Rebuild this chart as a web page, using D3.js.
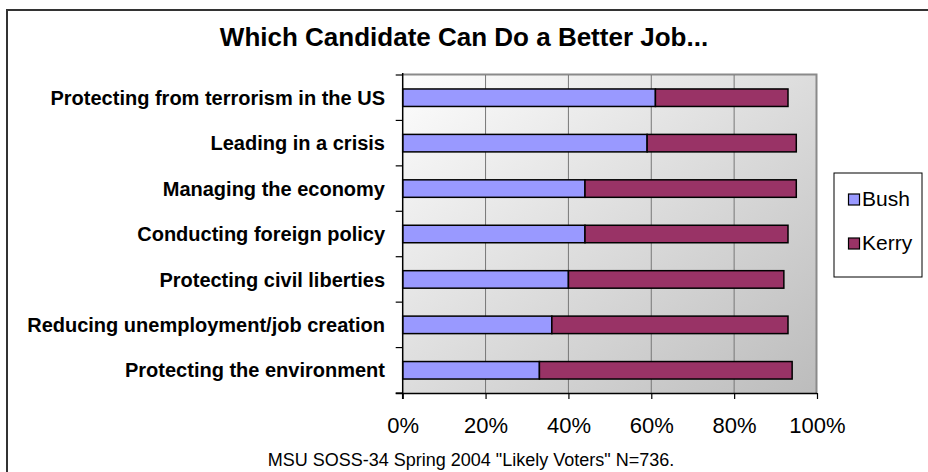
<!DOCTYPE html>
<html><head><meta charset="utf-8">
<script src="https://cdn.jsdelivr.net/npm/d3@7"></script>
<style>
html,body{margin:0;padding:0;background:#fff;}
svg{display:block;font-family:"Liberation Sans",Arial,sans-serif;}
</style></head>
<body>
<script>
const categories = [
  "Protecting from terrorism in the US",
  "Leading in a crisis",
  "Managing the economy",
  "Conducting foreign policy",
  "Protecting civil liberties",
  "Reducing unemployment/job creation",
  "Protecting the environment"
];
const bush  = [61, 59, 44, 44, 40, 36, 33];
const kerry = [32, 36, 51, 49, 52, 57, 61];
const seriesNames = ["Bush", "Kerry"];
const seriesColors = ["#9999FF", "#993366"];
const xTicks = [0, 20, 40, 60, 80, 100];
const title = "Which Candidate Can Do a Better Job...";
const footer = "MSU SOSS-34 Spring 2004 \"Likely Voters\" N=736.";

const W = 928, H = 472;
const svg = d3.select("body").append("svg").attr("width", W).attr("height", H);

const defs = svg.append("defs");
const grad = defs.append("linearGradient").attr("id","pg")
  .attr("x1","0%").attr("y1","0%").attr("x2","100%").attr("y2","100%");
grad.append("stop").attr("offset","0%").attr("stop-color","#fdfdfd");
grad.append("stop").attr("offset","100%").attr("stop-color","#bcbcbc");

// outer frame
svg.append("rect").attr("x",7).attr("y",10).attr("width",W+20).attr("height",H+20)
  .attr("fill","#fff").attr("stroke","#333").attr("stroke-width",2);

const plot = {left:402.7, right:817, top:75, bottom:393};
const x = d3.scaleLinear().domain([0,100]).range([plot.left, plot.right]);
const y = d3.scaleBand().domain(categories).range([plot.top, plot.bottom]).paddingInner(0.615).paddingOuter(0.3075);

// plot area
svg.append("rect").attr("x",plot.left).attr("y",plot.top)
  .attr("width",plot.right-plot.left).attr("height",plot.bottom-plot.top)
  .attr("fill","url(#pg)");
svg.append("path").attr("d",`M${plot.left},${plot.top-0.5}H${plot.right-0.5}V${plot.bottom}`)
  .attr("fill","none").attr("stroke","#8a8a8a").attr("stroke-width",2);

// gridlines
svg.append("g").selectAll("line").data(xTicks.filter(t=>t>0&&t<100)).join("line")
  .attr("x1",d=>x(d)).attr("x2",d=>x(d)).attr("y1",plot.top).attr("y2",plot.bottom)
  .attr("stroke","#777").attr("stroke-width",1);

// bars
const rows = categories.map((c,i)=>({c, vals:[bush[i], kerry[i]]}));
const gb = svg.append("g");
rows.forEach(r=>{
  let acc = 0;
  r.vals.forEach((v,j)=>{
    gb.append("rect").attr("x",x(acc)).attr("y",y(r.c))
      .attr("width",x(acc+v)-x(acc)).attr("height",y.bandwidth())
      .attr("fill",seriesColors[j]).attr("stroke","#000").attr("stroke-width",1.5);
    acc += v;
  });
});

// x axis
const xAxis = d3.axisBottom(x).tickValues(xTicks).tickFormat(d=>d+"%").tickSize(6).tickPadding(18);
const gx = svg.append("g").attr("transform",`translate(0,${plot.bottom})`).call(xAxis);
gx.select(".domain").attr("d",`M${plot.left-7},0.5H${plot.right}`).attr("stroke","#000").attr("stroke-width",1.5);
gx.selectAll(".tick line").attr("stroke","#000").attr("stroke-width",1.2);
gx.selectAll(".tick text").attr("font-size",22).attr("font-family","Liberation Sans, Arial, sans-serif").attr("fill","#000");

// y axis: ticks at boundaries
const bounds = d3.range(categories.length+1).map(i=>plot.top + i*(plot.bottom-plot.top)/categories.length);
svg.append("line").attr("x1",plot.left).attr("x2",plot.left).attr("y1",plot.top-2).attr("y2",plot.bottom+6)
  .attr("stroke","#000").attr("stroke-width",1.5);
svg.append("g").selectAll("line").data(bounds).join("line")
  .attr("x1",plot.left-7).attr("x2",plot.left).attr("y1",d=>d).attr("y2",d=>d)
  .attr("stroke","#000").attr("stroke-width",1.2);
svg.append("g").selectAll("text").data(categories).join("text")
  .attr("x",385).attr("y",d=>y(d)+y.bandwidth()/2).attr("dy","0.36em")
  .attr("text-anchor","end").attr("font-size",20).attr("font-weight","bold").text(d=>d);

// title
svg.append("text").attr("x",464).attr("y",46).attr("text-anchor","middle")
  .attr("font-size",26).attr("font-weight","bold").text(title);

// footer
svg.append("text").attr("x",471).attr("y",466).attr("text-anchor","middle")
  .attr("font-size",18).text(footer);

// legend
const lg = svg.append("g");
lg.append("rect").attr("x",834).attr("y",173).attr("width",88).attr("height",104)
  .attr("fill","#fff").attr("stroke","#000").attr("stroke-width",1);
seriesNames.forEach((s,i)=>{
  const yy = 194 + i*44;
  lg.append("rect").attr("x",848.5).attr("y",yy).attr("width",11).attr("height",11)
    .attr("fill",seriesColors[i]).attr("stroke","#000").attr("stroke-width",1.2);
  lg.append("text").attr("x",862).attr("y",yy+12).attr("font-size",21).text(s);
});
</script>
</body></html>
